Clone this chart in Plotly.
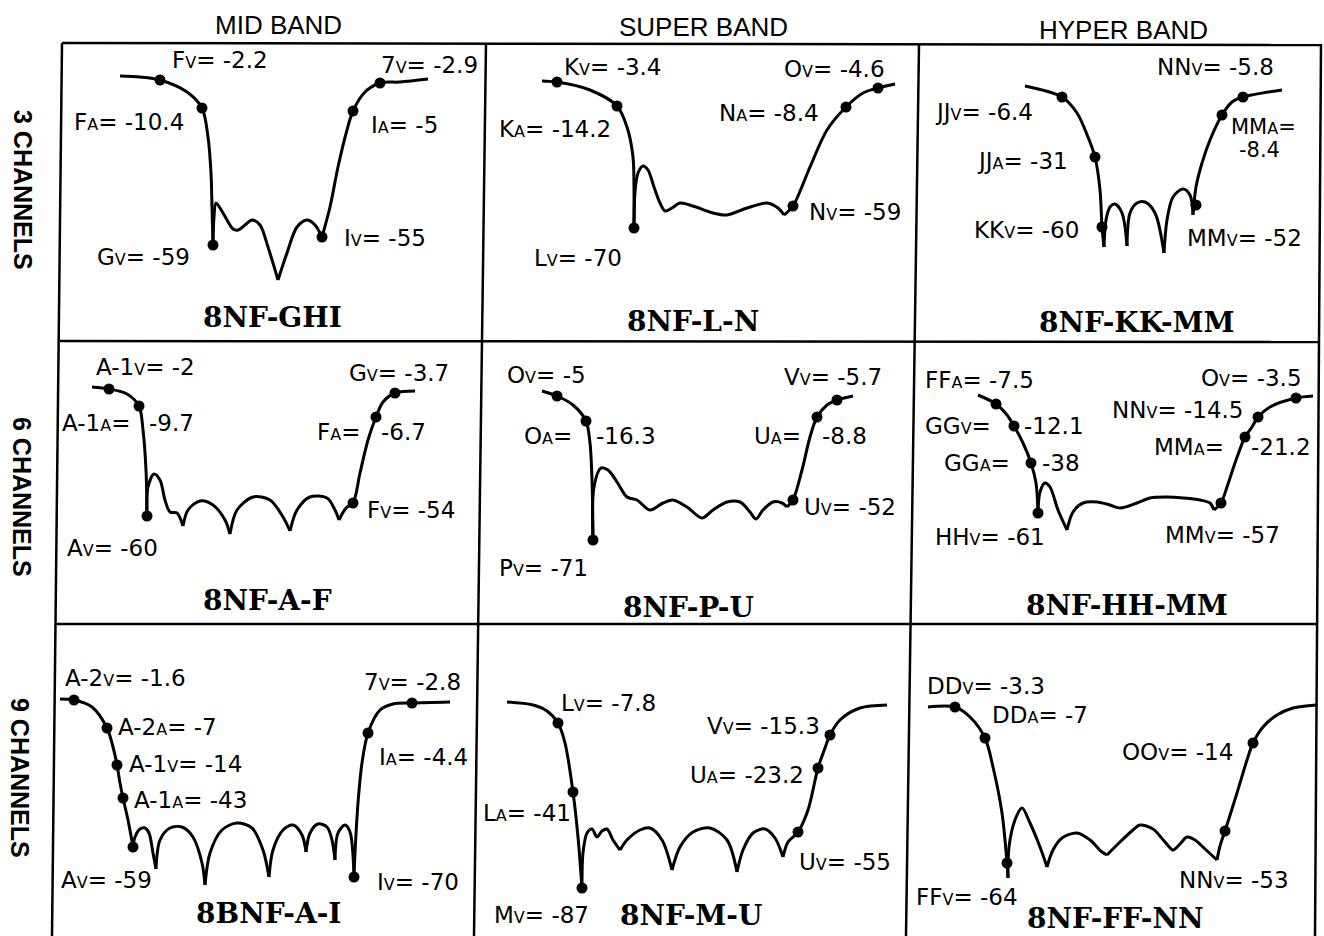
import plotly.graph_objects as go

FIG_W, FIG_H = 1324, 936

# ---------------- data ----------------
band_names = ["MID BAND", "SUPER BAND", "HYPER BAND"]
channel_names = ["3 CHANNELS", "6 CHANNELS", "9 CHANNELS"]
filter_names = [["8NF-GHI", "8NF-L-N", "8NF-KK-MM"],
                ["8NF-A-F", "8NF-P-U", "8NF-HH-MM"],
                ["8BNF-A-I", "8NF-M-U", "8NF-FF-NN"]]

# response curves: list of smooth segments (frequency, attenuation depth) per filter
ghi_curve = [
    [(60, 34), (80, 35), (100, 38), (127, 50), (142, 66), (148, 95), (151, 131), (152, 165), (153, 203)],
    [(153, 203), (154, 175), (156, 161), (163, 171), (173, 187), (178, 188), (185, 183), (192, 178), (200, 183), (208, 205), (218, 238)],
    [(218, 238), (227, 211), (237, 185), (247, 178), (255, 183), (262, 195)],
    [(262, 195), (270, 165), (278, 125), (287, 88), (293, 69), (305, 50), (320, 41), (340, 40), (368, 37)],
]
ln_curve = [
    [(60, 39), (75, 40), (108, 48), (135, 64), (145, 85), (151, 115), (152, 148), (152, 186)],
    [(152, 186), (153, 150), (156, 131), (161, 124), (166, 128), (172, 145), (178, 161), (183, 169), (190, 166),
     (198, 161), (211, 164), (231, 171), (245, 173), (265, 166), (285, 161), (296, 166), (302, 173)],
    [(302, 173), (311, 164), (328, 125), (345, 88), (364, 65), (381, 51), (396, 46), (413, 42)],
]
kkmm_curve = [
    [(110, 44), (147, 55), (162, 71), (173, 95), (180, 115), (185, 148), (187, 185), (189, 205)],
    [(189, 205), (191, 178), (195, 165), (200, 162), (207, 171), (212, 204)],
    [(212, 204), (215, 171), (222, 161), (230, 160), (240, 171), (249, 211)],
    [(249, 211), (252, 178), (258, 155), (268, 147), (275, 153), (278, 173)],
    [(278, 173), (281, 145), (287, 121), (295, 98), (307, 73), (317, 60), (328, 55), (367, 48)],
]
af_curve = [
    [(32, 45), (49, 47), (67, 52), (79, 64), (83, 88), (86, 128), (87, 174)],
    [(87, 174), (88, 145), (94, 132), (100, 138), (105, 158), (110, 170), (117, 171), (123, 184)],
    [(123, 184), (128, 168), (140, 159), (153, 163), (165, 178), (170, 192)],
    [(170, 192), (177, 168), (193, 155), (210, 158), (223, 175), (230, 189)],
    [(230, 189), (237, 168), (250, 155), (267, 156), (275, 168), (279, 178)],
    [(279, 178), (286, 166), (293, 161), (300, 131), (308, 98), (316, 75), (323, 60), (335, 51), (355, 49)],
]
pu_curve = [
    [(60, 49), (75, 54), (91, 63), (104, 79), (108, 101), (110, 138), (111, 198)],
    [(111, 198), (112, 145), (119, 126), (126, 128), (135, 140), (145, 155), (155, 158), (168, 168), (181, 161),
     (191, 158), (205, 165), (220, 176), (231, 168), (245, 160), (258, 160), (268, 170), (274, 177), (281, 168),
     (291, 160), (300, 161), (305, 165)],
    [(305, 165), (311, 158), (320, 128), (328, 95), (335, 75), (345, 63), (355, 58), (371, 54)],
]
hhmm_curve = [
    [(63, 53), (81, 62), (92, 73), (99, 84), (108, 101), (116, 121), (121, 141), (123, 171)],
    [(123, 171), (125, 150), (130, 141), (135, 145), (143, 168), (152, 188)],
    [(152, 188), (158, 170), (168, 161), (182, 160), (195, 163), (205, 166), (222, 161), (235, 156), (252, 155),
     (268, 156), (285, 158), (295, 161), (299, 168)],
    [(299, 168), (306, 161), (312, 145), (320, 121), (330, 95), (337, 85), (343, 75), (355, 65), (381, 56), (398, 54)],
]
ai_curve = [
    [(0, 75), (14, 76), (32, 83), (47, 104), (53, 123), (57, 141), (60, 159), (63, 174), (68, 196), (73, 223)],
    [(73, 223), (75, 213), (80, 205), (85, 204), (89, 209), (93, 229), (96, 245)],
    [(96, 245), (100, 216), (110, 204), (122, 203), (133, 213), (142, 239), (145, 261)],
    [(145, 261), (150, 229), (162, 206), (177, 199), (192, 204), (203, 226), (209, 253)],
    [(209, 253), (213, 226), (223, 206), (233, 201), (242, 211), (246, 228)],
    [(246, 228), (250, 209), (258, 200), (267, 203), (272, 216), (275, 236)],
    [(275, 236), (278, 209), (285, 201), (290, 208), (294, 253)],
    [(294, 253), (295, 229), (298, 179), (302, 139), (308, 109), (320, 86), (333, 80), (352, 79), (390, 78)],
]
mu_curve = [
    [(25, 78), (51, 81), (65, 87), (76, 99), (83, 119), (91, 168), (96, 213), (100, 264)],
    [(100, 264), (101, 229), (105, 209), (110, 205), (115, 213), (120, 207), (125, 205), (131, 216), (138, 226)],
    [(138, 226), (145, 216), (158, 206), (168, 204), (180, 216), (190, 246)],
    [(190, 246), (198, 223), (211, 208), (228, 204), (245, 216), (255, 248)],
    [(255, 248), (261, 226), (271, 209), (283, 205), (293, 214), (301, 233)],
    [(301, 233), (306, 218), (316, 208), (326, 186), (336, 144), (343, 124), (348, 111), (358, 96), (378, 84), (405, 81)],
]
ffnn_curve = [
    [(13, 83), (40, 83), (55, 93), (70, 114), (78, 143), (87, 189), (92, 239), (93, 254)],
    [(93, 254), (94, 223), (100, 196), (107, 184), (115, 199), (125, 223), (132, 243)],
    [(132, 243), (138, 226), (147, 214), (162, 209), (175, 216), (187, 228), (192, 231)],
    [(192, 231), (205, 218), (218, 206), (225, 201), (238, 205), (250, 218), (258, 226), (265, 220), (272, 213),
     (280, 216), (290, 225), (302, 236)],
    [(302, 236), (305, 222), (310, 207), (322, 169), (332, 136), (338, 119), (348, 103), (362, 91), (378, 84), (401, 81)],
]

# measured points on each curve
ghi_dots = [(100, 38), (142, 66), (153, 203), (262, 195), (293, 69), (320, 41)]
ln_dots = [(75, 40), (135, 64), (152, 186), (311, 164), (364, 65), (396, 46)]
kkmm_dots = [(147, 55), (180, 115), (187, 185), (281, 163), (307, 73), (328, 55)]
af_dots = [(49, 47), (79, 64), (87, 174), (293, 161), (316, 75), (335, 51)]
pu_dots = [(75, 54), (104, 79), (111, 198), (311, 158), (335, 75), (355, 58)]
hhmm_dots = [(81, 62), (99, 84), (116, 121), (123, 171), (306, 161), (330, 95), (343, 75), (381, 56)]
ai_dots = [(14, 76), (47, 104), (57, 141), (63, 174), (73, 223), (294, 253), (308, 109), (352, 79)]
mu_dots = [(76, 99), (91, 168), (100, 264), (316, 208), (336, 144), (348, 111)]
ffnn_dots = [(40, 83), (70, 114), (92, 239), (310, 207), (338, 119)]

# point labels: (name, small letter, value text)
ghi_labels = [("F", "V", "= -2.2"), ("7", "V", "= -2.9"), ("F", "A", "= -10.4"), ("I", "A", "= -5"),
              ("G", "V", "= -59"), ("I", "V", "= -55")]
ln_labels = [("K", "V", "= -3.4"), ("O", "V", "= -4.6"), ("K", "A", "= -14.2"), ("N", "A", "= -8.4"),
             ("N", "V", "= -59"), ("L", "V", "= -70")]
kkmm_labels = [("NN", "V", "= -5.8"), ("JJ", "V", "= -6.4"), ("JJ", "A", "= -31"), ("MM", "A", "="),
               ("", "", "-8.4"), ("KK", "V", "= -60"), ("MM", "V", "= -52")]
af_labels = [("A-1", "V", "= -2"), ("G", "V", "= -3.7"), ("A-1", "A", "="), ("", "", "-9.7"),
             ("F", "A", "="), ("", "", "-6.7"), ("F", "V", "= -54"), ("A", "V", "= -60")]
pu_labels = [("O", "V", "= -5"), ("V", "V", "= -5.7"), ("O", "A", "="), ("", "", "-16.3"),
             ("U", "A", "="), ("", "", "-8.8"), ("U", "V", "= -52"), ("P", "V", "= -71")]
hhmm_labels = [("FF", "A", "= -7.5"), ("O", "V", "= -3.5"), ("NN", "V", "= -14.5"), ("GG", "V", "="),
               ("", "", "-12.1"), ("MM", "A", "="), ("", "", "-21.2"), ("GG", "A", "="), ("", "", "-38"),
               ("HH", "V", "= -61"), ("MM", "V", "= -57")]
ai_labels = [("A-2", "V", "= -1.6"), ("7", "V", "= -2.8"), ("A-2", "A", "= -7"), ("I", "A", "= -4.4"),
             ("A-1", "V", "= -14"), ("A-1", "A", "= -43"), ("A", "V", "= -59"), ("I", "V", "= -70")]
mu_labels = [("L", "V", "= -7.8"), ("V", "V", "= -15.3"), ("U", "A", "= -23.2"), ("L", "A", "= -41"),
             ("U", "V", "= -55"), ("M", "V", "= -87")]
ffnn_labels = [("DD", "V", "= -3.3"), ("DD", "A", "= -7"), ("OO", "V", "= -14"), ("NN", "V", "= -53"),
               ("FF", "V", "= -64")]

# ---------------- layout (positions of label text, panels) ----------------
ghi_label_pos = [(111, 18), (320, 23), (13, 80), (310, 83), (36, 215), (283, 196)]
ln_label_pos = [(81, 25), (301, 27), (16, 87), (236, 71), (326, 170), (51, 216)]
kkmm_label_pos = [(241, 25), (19, 70), (61, 119), (315, 85), (323, 108), (58, 188), (271, 196)]
af_label_pos = [(35, 25), (288, 31), (1, 81), (88, 81), (256, 90), (320, 90), (306, 168), (6, 206)]
pu_label_pos = [(24, 33), (301, 35), (41, 94), (113, 94), (271, 94), (339, 94), (321, 165), (16, 226)]
hhmm_label_pos = [(9, 38), (285, 36), (196, 68), (9, 84), (108, 84), (238, 105), (335, 105), (28, 121),
                  (126, 121), (19, 195), (249, 193)]
ai_label_pos = [(4, 54), (303, 58), (57, 103), (318, 133), (68, 140), (73, 176), (0, 256), (316, 258)]
mu_label_pos = [(78, 79), (224, 102), (207, 151), (0, 189), (316, 238), (11, 291)]
ffnn_label_pos = [(11, 62), (76, 91), (206, 128), (263, 256), (0, 273)]
title_pos = [[(212, 276), (211, 280), (222, 281)],
             [(207, 258), (206, 265), (212, 263)],
             [(208, 289), (209, 291), (200, 294)]]

curves = [[ghi_curve, ln_curve, kkmm_curve], [af_curve, pu_curve, hhmm_curve], [ai_curve, mu_curve, ffnn_curve]]
dots = [[ghi_dots, ln_dots, kkmm_dots], [af_dots, pu_dots, hhmm_dots], [ai_dots, mu_dots, ffnn_dots]]
labels = [[ghi_labels, ln_labels, kkmm_labels], [af_labels, pu_labels, hhmm_labels],
          [ai_labels, mu_labels, ffnn_labels]]
label_pos = [[ghi_label_pos, ln_label_pos, kkmm_label_pos], [af_label_pos, pu_label_pos, hhmm_label_pos],
             [ai_label_pos, mu_label_pos, ffnn_label_pos]]

col_x0 = [60, 482, 915]
col_x1 = [482, 915, 1320]
row_y0 = [42, 342, 624]
row_y1 = [342, 624, 936]

LABEL_SIZE = 23
SMALL = 16

fig = go.Figure()
annotations = []
layout_axes = {}


def px(xp):
    return xp / FIG_W


def py(yp):
    return 1 - yp / FIG_H


for r in range(3):
    for c in range(3):
        idx = r * 3 + c + 1
        sfx = "" if idx == 1 else str(idx)
        xref, yref = "x" + sfx, "y" + sfx
        w = col_x1[c] - col_x0[c]
        h = row_y1[r] - row_y0[r]
        layout_axes["xaxis" + sfx] = dict(domain=[px(col_x0[c]), px(col_x1[c])], range=[0, w],
                                          visible=False, fixedrange=True, anchor=yref)
        layout_axes["yaxis" + sfx] = dict(domain=[py(row_y1[r]), py(row_y0[r])], range=[h, 0],
                                          visible=False, fixedrange=True, anchor=xref)
        xs, ys = [], []
        for seg in curves[r][c]:
            xs += [p[0] for p in seg] + [None]
            ys += [p[1] for p in seg] + [None]
        fig.add_trace(go.Scatter(x=xs, y=ys, mode="lines", connectgaps=False, cliponaxis=False,
                                 line=dict(color="black", width=3, shape="spline", smoothing=0.9),
                                 xaxis=xref, yaxis=yref, hoverinfo="skip", showlegend=False))
        fig.add_trace(go.Scatter(x=[p[0] for p in dots[r][c]], y=[p[1] for p in dots[r][c]],
                                 mode="markers", cliponaxis=False,
                                 marker=dict(size=11, color="black"),
                                 xaxis=xref, yaxis=yref, hoverinfo="skip", showlegend=False))
        for (main, small, rest), (lx, ly) in zip(labels[r][c], label_pos[r][c]):
            txt = main
            if small:
                txt += f"<span style='font-size:{SMALL}px'>{small}</span>"
            txt += rest
            size = 21 if (r, c) == (0, 2) and ly in (85, 108) else LABEL_SIZE
            annotations.append(dict(x=lx, y=ly, xref=xref, yref=yref, text=txt, showarrow=False,
                                    xanchor="left", yanchor="middle", borderpad=0,
                                    font=dict(family="DejaVu Sans", size=size, color="black")))
        tx, ty = title_pos[r][c]
        annotations.append(dict(x=tx, y=ty, xref=xref, yref=yref, text="<b>" + filter_names[r][c] + "</b>",
                                showarrow=False, xanchor="center", yanchor="middle", borderpad=0,
                                font=dict(family="DejaVu Serif", size=28, color="black")))

# column headers
for name, (hx, hy) in zip(band_names, [(278, 25), (703, 27), (1123, 30)]):
    annotations.append(dict(x=px(hx), y=py(hy), xref="paper", yref="paper", text=name, showarrow=False,
                            xanchor="center", yanchor="middle",
                            font=dict(family="Liberation Sans", size=26, color="black")))
# row labels
for name, (hx, hy) in zip(channel_names, [(23, 190), (22, 497), (20, 778)]):
    annotations.append(dict(x=px(hx), y=py(hy), xref="paper", yref="paper", text="<b>" + name + "</b>",
                            showarrow=False, textangle=90, xanchor="center", yanchor="middle",
                            font=dict(family="Liberation Sans", size=25, color="black")))

# grid frame lines (slightly skewed like the scan)
frame = [((62, 43), (1322, 45)), ((60, 341), (1320, 342)), ((55, 624), (1316, 624)),
         ((62, 43), (52, 936)), ((486, 43), (474, 936)), ((919, 45), (906, 936)), ((1321, 45), (1315, 936))]
shapes = []
for (a, b) in frame:
    shapes.append(dict(type="line", xref="paper", yref="paper", x0=px(a[0]), y0=py(a[1]),
                       x1=px(b[0]), y1=py(b[1]), line=dict(color="black", width=2.5)))

fig.update_layout(width=FIG_W, height=FIG_H, margin=dict(l=0, r=0, t=0, b=0),
                  paper_bgcolor="white", plot_bgcolor="white", annotations=annotations,
                  shapes=shapes, showlegend=False, **layout_axes)

fig.write_html("out.html")
